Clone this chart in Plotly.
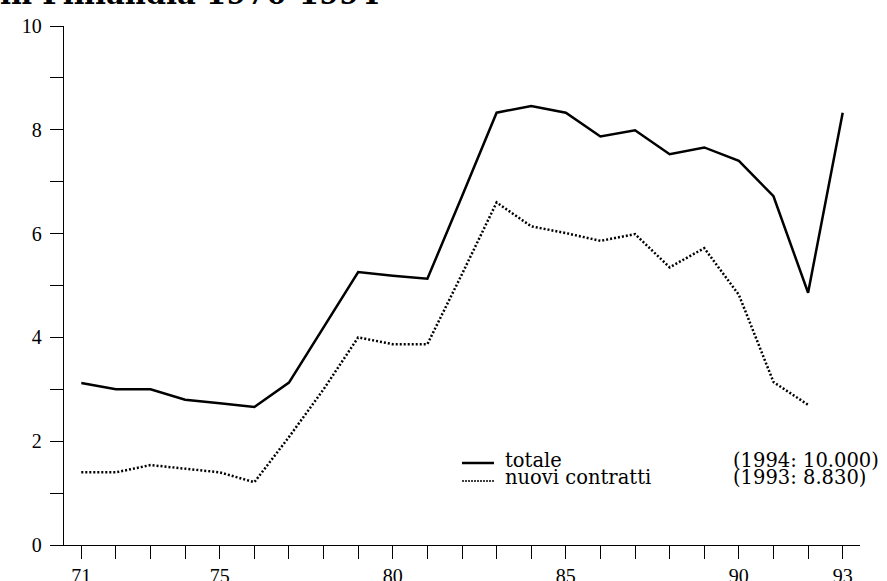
import plotly.graph_objects as go

years = list(range(71, 94))
totale = [3.12, 3.0, 3.0, 2.8, 2.73, 2.66, 3.13, 4.2, 5.26, 5.19, 5.13, 6.72, 8.33, 8.46, 8.33,
          7.87, 7.99, 7.53, 7.66, 7.40, 6.72, 4.86, 8.33]
nuovi_years = list(range(71, 93))
nuovi = [1.40, 1.40, 1.54, 1.47, 1.40, 1.21, 2.08, 3.0, 4.0, 3.87, 3.87, 5.22, 6.60, 6.14, 6.01,
         5.86, 5.99, 5.35, 5.72, 4.82, 3.14, 2.70]

x_labels = {71: "71", 75: "75", 80: "80", 85: "85", 90: "90", 93: "93"}
y_ticks = list(range(0, 11))
y_labels = ["0", "", "2", "", "4", "", "6", "", "8", "", "10"]
legend_names = ["totale", "nuovi contratti"]
legend_notes = ["(1994: 10.000)", "(1993: 8.830)"]
title_text = "in Finlandia 1970-1994"

tick_font = dict(family="Liberation Serif", size=20, color="black")
leg_font = dict(family="DejaVu Serif", size=19.5, color="black")

fig = go.Figure()
fig.add_trace(go.Scatter(x=years, y=totale, mode="lines",
                         line=dict(color="black", width=2.5), showlegend=False))
fig.add_trace(go.Scatter(x=nuovi_years, y=nuovi, mode="lines",
                         line=dict(color="black", width=2.5, dash="2px,2px"), showlegend=False))

W, H = 887, 581
L, R, T, B = 64, 27, 26, 36
pw, ph = W - L - R, H - T - B

def px(xp):
    return (xp - L) / pw

def py(yp):
    return (H - B - yp) / ph

fig.update_layout(
    width=W, height=H,
    margin=dict(l=L, r=R, t=T, b=B, autoexpand=False),
    paper_bgcolor="white", plot_bgcolor="white",
    xaxis=dict(range=[70.5, 93.5], tickmode="array", tickvals=years,
               ticktext=[x_labels.get(y, "") for y in years],
               ticks="outside", ticklen=13, tickwidth=1.3, tickcolor="black",
               showline=True, linecolor="black", linewidth=1.3, automargin=False,
               showgrid=False, zeroline=False, tickfont=tick_font),
    yaxis=dict(range=[0, 10], tickmode="array", tickvals=y_ticks, ticktext=y_labels,
               ticks="outside", ticklen=13, tickwidth=1.3, tickcolor="black",
               showline=True, linecolor="black", linewidth=1.3, automargin=False,
               showgrid=False, zeroline=False, tickfont=tick_font, ticklabelstandoff=4),
)

# legend
line_styles = [dict(color="black", width=2.5), dict(color="black", width=1.5, dash="2px,1px")]
leg_y = [463, 481]
for i in range(2):
    fig.add_shape(type="line", xref="paper", yref="paper",
                  x0=px(462), x1=px(494), y0=py(leg_y[i]), y1=py(leg_y[i]),
                  line=line_styles[i])
    fig.add_annotation(xref="paper", yref="paper", x=px(503), y=py(leg_y[i] - 3),
                       text=legend_names[i], showarrow=False, xanchor="left",
                       yanchor="middle", font=leg_font)
    fig.add_annotation(xref="paper", yref="paper", x=px(731), y=py(leg_y[i] - 3),
                       text=legend_notes[i], showarrow=False, xanchor="left",
                       yanchor="middle", font=leg_font)

fig.add_annotation(xref="paper", yref="paper", x=px(-2), y=py(13), text="<b>" + title_text + "</b>",
                   showarrow=False, xanchor="left", yanchor="bottom",
                   font=dict(family="DejaVu Serif", size=29, color="black"))

fig.write_html("out.html", config={"displayModeBar": False},
               post_script="document.body.style.margin='0';document.body.style.overflow='hidden';")
